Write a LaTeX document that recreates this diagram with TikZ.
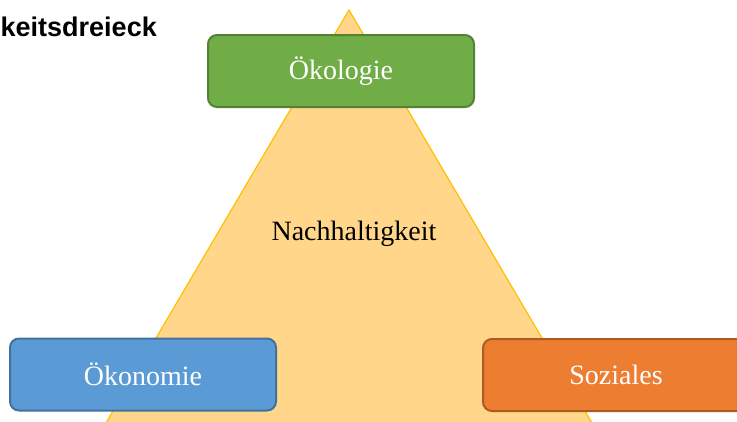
\documentclass[tikz,border=0pt]{standalone}
\usepackage{fontspec}
\setmainfont{Liberation Serif}
\newfontfamily\headfont{Liberation Sans}
\definecolor{trifill}{HTML}{FFD68A}
\definecolor{triline}{HTML}{FFC000}
\definecolor{ecofill}{HTML}{70AD47}
\definecolor{ecoline}{HTML}{548235}
\definecolor{econfill}{HTML}{5B9BD5}
\definecolor{econline}{HTML}{41719C}
\definecolor{socfill}{HTML}{ED7D31}
\definecolor{socline}{HTML}{AE5A21}
\begin{document}
\begin{tikzpicture}[x=1pt,y=-1pt,
  pillar/.style={draw, line width=2pt, rounded corners=9pt, minimum width=266pt,
    minimum height=72pt, inner sep=0pt, text=white,
    font=\fontsize{28}{32}\selectfont},
  label/.style={font=\fontsize{28}{32}\selectfont, text=black, inner sep=0pt}]
  \useasboundingbox (0,0) rectangle (737,421);
  \clip (0,0) rectangle (737,421);
  % the triangle, running off the lower edge
  \coordinate (apex) at (349,10);
  \coordinate (bl) at (96,440);
  \coordinate (br) at (602,440);
  \draw[fill=trifill, draw=triline, line width=1.2pt, line join=miter]
    (apex) -- (br) -- (bl) -- cycle;
  \node[label] (centre) at (354,234) {Nachhaltigkeit};
  % the three pillars
  \node[pillar, fill=ecofill, draw=ecoline] (oeko) at (341,71) {Ökologie};
  \node[pillar, fill=econfill, draw=econline] (oekon) at (143,374.5) {Ökonomie};
  \node[pillar, fill=socfill, draw=socline] (sozial) at (616,375) {Soziales};
  % heading
  \node[anchor=base west, inner sep=0pt,
    font=\headfont\bfseries\fontsize{27}{31}\selectfont] (title) at (0.5,36)
    {keitsdreieck};
\end{tikzpicture}
\end{document}
